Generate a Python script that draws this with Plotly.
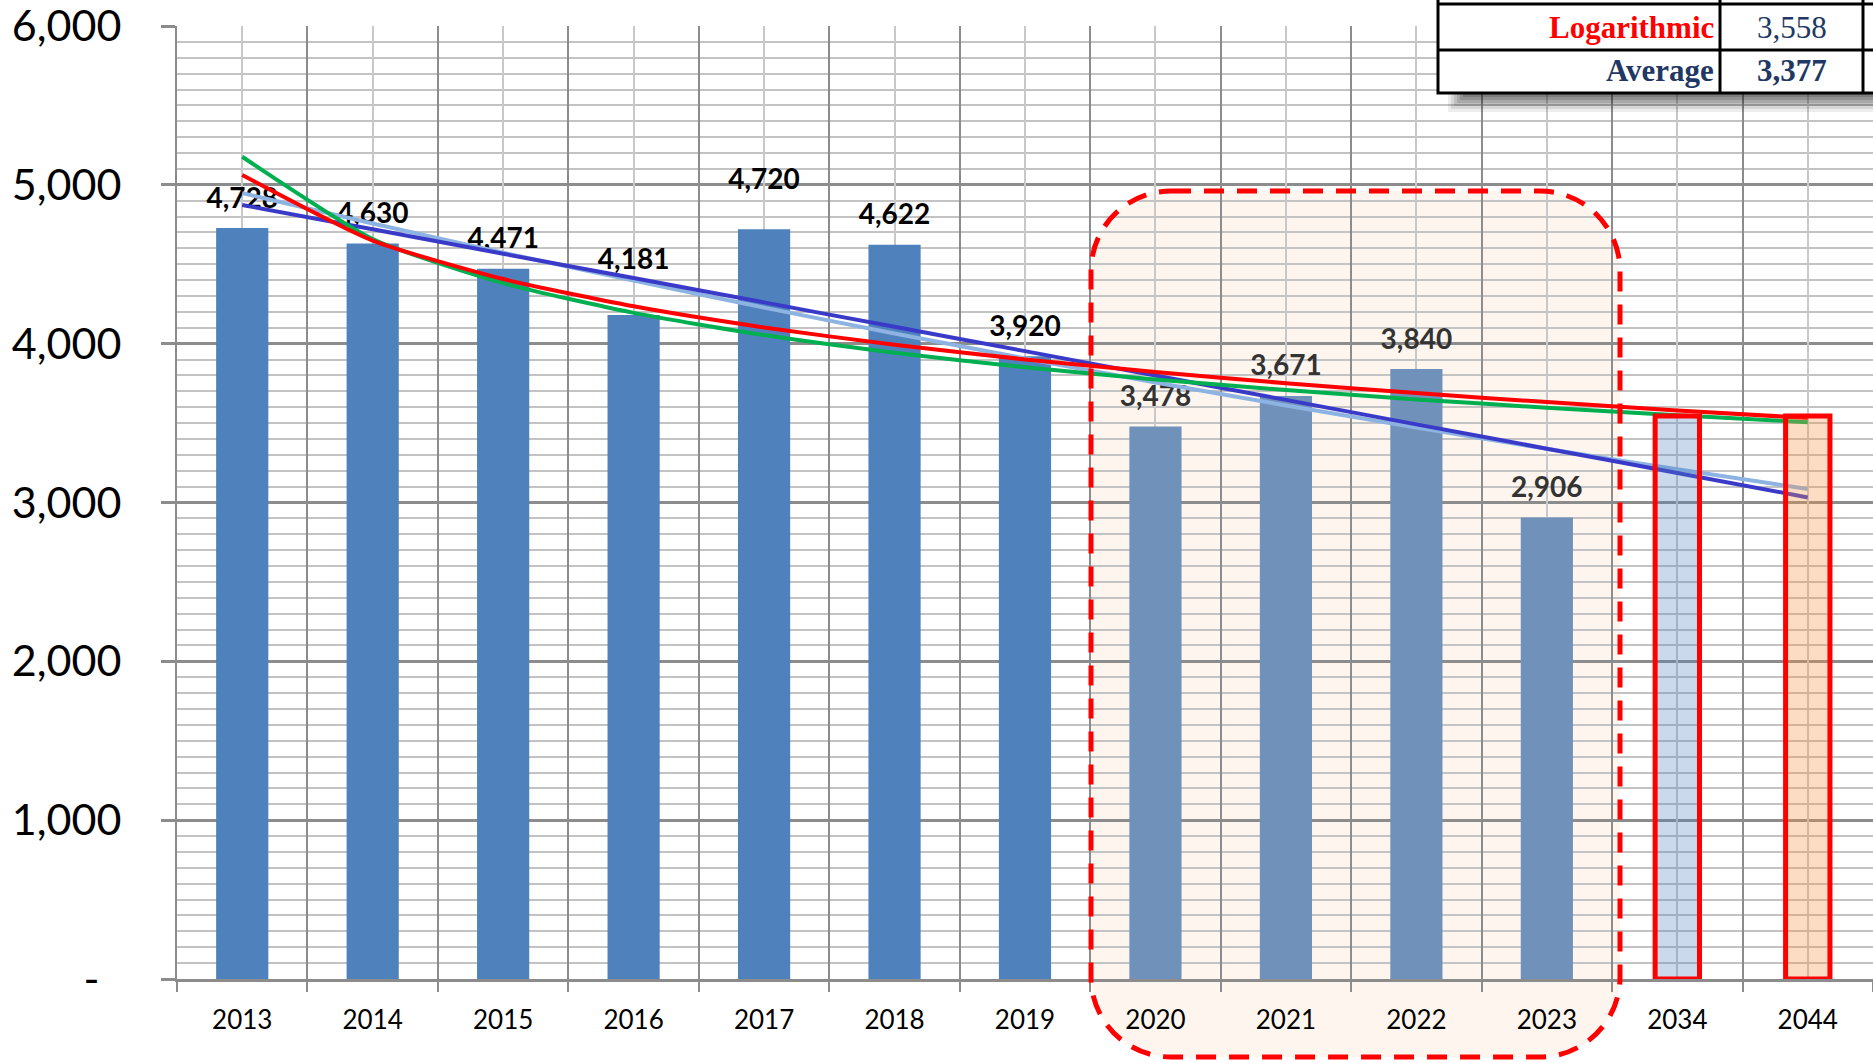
import plotly.graph_objects as go

# ---------------- data ----------------
years = ['2013', '2014', '2015', '2016', '2017', '2018', '2019',
         '2020', '2021', '2022', '2023']
actual = [4728, 4630, 4471, 4181, 4720, 4622, 3920, 3478, 3671, 3840, 2906]
forecast_years = ['2034', '2044']
forecast = [3545, 3545]
all_years = years + forecast_years

# trend lines (one value per category)
trend_linear = [4873, 4720, 4566, 4413, 4260, 4106, 3953, 3799, 3646, 3492, 3339, 3186, 3032]
trend_expo = [4948, 4757, 4573, 4397, 4227, 4064, 3907, 3756, 3611, 3472, 3338, 3209, 3085]
trend_log = [5062, 4649, 4407, 4235, 4102, 3993, 3901, 3822, 3751, 3689, 3632, 3580, 3532]
trend_power = [5177, 4659, 4381, 4194, 4054, 3943, 3852, 3775, 3708, 3649, 3597, 3549, 3506]

y_tickvals = [0, 1000, 2000, 3000, 4000, 5000, 6000]
y_ticktext = ['-\u00a0\u00a0', '1,000', '2,000', '3,000', '4,000', '5,000', '6,000']

table_labels = ['Logarithmic', 'Average']
table_values = ['3,558', '3,377']

# ---------------- styling ----------------
W, H = 1873, 1063
ML, MR, MT, MB = 177, 0, 26, 84
PW, PH = W - ML - MR, H - MT - MB
FONT = 'Lato'

def pxx(p):
    return (p - ML) / PW

def pxy(p):
    return (H - MB - p) / PH

bar_colors = ['#4F81BD'] * 7 + ['#7091B9'] * 4
label_colors = ['#000000'] * 7 + ['#333333'] * 4
# invisible marker sizes used only to push the value labels upward
label_pad = [20, 20, 20, 61, 52, 20, 20, 20, 20, 20, 20]

fig = go.Figure()

fig.add_trace(go.Bar(x=years, y=actual, width=0.4,
                     marker=dict(color=bar_colors, line=dict(width=0)),
                     hoverinfo='x+y'))

# value labels (drawn below the trend lines, as in the original)
fig.add_trace(go.Scatter(x=years, y=actual, mode='markers+text',
                         text=[f'<b>{v:,}</b>' for v in actual],
                         textposition='top center',
                         textfont=dict(family=FONT, size=28, color=label_colors),
                         marker=dict(size=label_pad, color='rgba(0,0,0,0)', line=dict(width=0)),
                         cliponaxis=False, hoverinfo='skip'))

line_specs = [(trend_expo, '#8DB3E2'), (trend_linear, '#3A3AC8'),
              (trend_power, '#00B050'), (trend_log, '#FF0000')]
for vals, col in line_specs:
    fig.add_trace(go.Scatter(x=all_years, y=vals, mode='lines',
                             line=dict(color=col, width=4, shape='spline', smoothing=0.6)))

fig.add_trace(go.Bar(x=forecast_years, y=forecast, width=0.34,
                     xaxis='x2', yaxis='y2',
                     marker=dict(color=['rgba(79,129,189,0.3)', 'rgba(247,150,70,0.32)'],
                                 line=dict(color='#FF0000', width=5))))

annotations = []
# table texts
row_centers = [27, 71]
for i in range(2):
    annotations.append(dict(x=pxx(1716), y=pxy(row_centers[i]), xref='paper', yref='paper',
                            xanchor='right', yanchor='middle', showarrow=False,
                            text=f'<b>{table_labels[i]}</b>',
                            font=dict(family='Liberation Serif', size=31,
                                      color='#FF0000' if i == 0 else '#1F3864')))
    annotations.append(dict(x=pxx(1792), y=pxy(row_centers[i]), xref='paper', yref='paper',
                            xanchor='center', yanchor='middle', showarrow=False,
                            text=(table_values[i] if i == 0 else f'<b>{table_values[i]}</b>'),
                            font=dict(family='Liberation Serif', size=31, color='#1F3864')))

def rrect_path(x0, y0, x1, y1, r):
    k = 0.5523 * r
    pts = [('M', [(x0 + r, y0)]), ('L', [(x1 - r, y0)]),
           ('C', [(x1 - r + k, y0), (x1, y0 + r - k), (x1, y0 + r)]),
           ('L', [(x1, y1 - r)]),
           ('C', [(x1, y1 - r + k), (x1 - r + k, y1), (x1 - r, y1)]),
           ('L', [(x0 + r, y1)]),
           ('C', [(x0 + r - k, y1), (x0, y1 - r + k), (x0, y1 - r)]),
           ('L', [(x0, y0 + r)]),
           ('C', [(x0, y0 + r - k), (x0 + r - k, y0), (x0 + r, y0)])]
    s = ''
    for cmd, ps in pts:
        s += cmd + ' ' + ' '.join(f'{pxx(a):.5f},{pxy(b):.5f}' for a, b in ps) + ' '
    return s + 'Z'

region = rrect_path(1091, 191, 1620, 1057, 80)
shapes = [
    dict(type='path', path=region, xref='paper', yref='paper', layer='below',
         fillcolor='rgba(247,150,70,0.09)', line=dict(width=0)),
    dict(type='path', path=region, xref='paper', yref='paper', layer='above',
         fillcolor='rgba(0,0,0,0)', line=dict(color='#FF0000', width=5, dash='20px,13px')),
]
# table shadow
for (x0, y1, op) in [(1448, 112, 0.08), (1451, 109, 0.1), (1454, 106, 0.12),
                     (1457, 103, 0.14), (1460, 100, 0.16), (1463, 97, 0.18)]:
    shapes.append(dict(type='rect', xref='paper', yref='paper', layer='above',
                       x0=pxx(x0), x1=pxx(1890), y0=pxy(88), y1=pxy(y1),
                       fillcolor=f'rgba(30,30,30,{op})', line=dict(width=0)))
# table box
shapes.append(dict(type='rect', xref='paper', yref='paper', layer='above',
                   x0=pxx(1438), x1=pxx(1890), y0=pxy(-20), y1=pxy(93),
                   fillcolor='white', line=dict(color='black', width=3)))
for (a, b, c, d) in [(1438, 4, 1890, 4), (1438, 50, 1890, 50),
                     (1720, -20, 1720, 93), (1863, -20, 1863, 93)]:
    shapes.append(dict(type='line', xref='paper', yref='paper', layer='above',
                       x0=pxx(a), y0=pxy(b), x1=pxx(c), y1=pxy(d),
                       line=dict(color='black', width=3)))

fig.update_layout(
    width=W, height=H,
    margin=dict(l=ML, r=MR, t=MT, b=MB, pad=0, autoexpand=False),
    paper_bgcolor='white', plot_bgcolor='white',
    showlegend=False, barmode='overlay',
    font=dict(family=FONT, color='black'),
    xaxis=dict(type='category', categoryorder='array', categoryarray=all_years,
               range=[-0.5, 12.5], tickson='boundaries', automargin=False,
               showgrid=True, gridcolor='#8C8C8C', gridwidth=2,
               ticks='outside', ticklen=10, tickwidth=2, tickcolor='#8C8C8C',
               showline=True, linecolor='#8C8C8C', linewidth=2.5,
               tickfont=dict(family=FONT, size=26, color='black'),
               ticklabelstandoff=16, zeroline=False, fixedrange=True),
    xaxis2=dict(type='category', categoryorder='array', categoryarray=all_years,
                range=[-0.5, 12.5], overlaying='x', anchor='y2', automargin=False,
                showgrid=True, gridcolor='#C8C8C8', gridwidth=1.5,
                showticklabels=False, ticks='', showline=False, zeroline=False),
    yaxis=dict(range=[0, 6000], tickmode='array', tickvals=y_tickvals, ticktext=y_ticktext,
               automargin=False,
               showgrid=True, gridcolor='#8C8C8C', gridwidth=2.5,
               minor=dict(tickmode='linear', tick0=0, dtick=100, showgrid=True,
                          gridcolor='#C3C3C3', gridwidth=1.5, ticks=''),
               ticks='outside', ticklen=14, tickwidth=2.5, tickcolor='#8C8C8C',
               showline=True, linecolor='#8C8C8C', linewidth=2,
               tickfont=dict(family=FONT, size=43, color='black'),
               ticklabelstandoff=31, ticklabeloverflow='allow', zeroline=False),
    yaxis2=dict(range=[0, 6000], overlaying='y', anchor='x2', showgrid=False, automargin=False,
                showticklabels=False, ticks='', zeroline=False, showline=False),
    annotations=annotations,
    shapes=shapes,
)

fig.write_html('out.html', config={'displayModeBar': False},
               post_script="document.body.style.margin='0px';document.body.style.overflow='hidden';")
